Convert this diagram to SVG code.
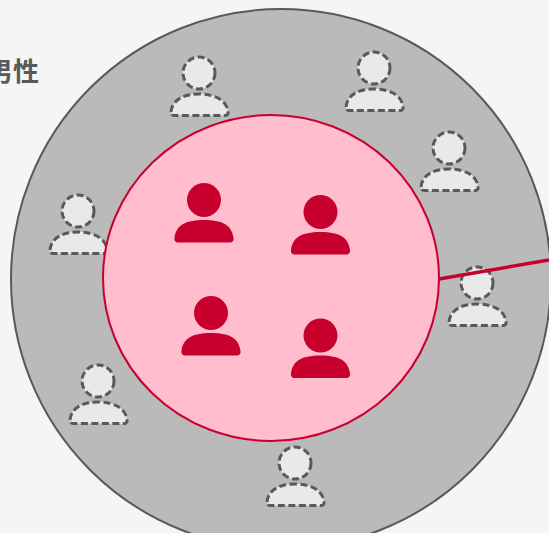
<svg xmlns="http://www.w3.org/2000/svg" width="549" height="533" viewBox="0 0 549 533">
<style>
.lbl{font-family:"Noto Sans CJK SC","Liberation Sans",sans-serif;font-size:26px;font-weight:700;fill:#595959}
.head-g,.body-g{fill:#e9e9e9;stroke:#595959;stroke-width:3;stroke-dasharray:7 3.5}
.head-r,.body-r{fill:#c8002d}
</style>
<defs>
<path id="body" d="M-28.5 41.5Q-28 21 0 21Q28 21 28.5 41.5Q28.5 42 27 42H-27Q-28.5 42 -28.5 41.5Z" transform="translate(0 0)"/>
<g id="pg"><circle class="head-g" r="16"/><path class="body-g" d="M-28 39C-27 28 -17 21 0 21C17 21 28 28 29 39C29.500 41 28 42.500 26 42.500H-25C-27 42.500 -28.500 41 -28 39Z"/></g>
<g id="pr"><circle class="head-r" r="17"/><path class="body-r" d="M-29.500 38C-28 26 -20 20 0 20C20 20 28 26 29.500 38C30 41 28 42.500 26 42.500H-26C-28 42.500 -30 41 -29.500 38Z"/></g>
</defs>
<rect width="549" height="533" fill="#f5f5f5"/>
<text class="lbl" x="-13" y="81">男性</text>
<circle id="outer" cx="281" cy="279" r="270" fill="#bababa" stroke="#595959" stroke-width="2"/>
<g id="gray-people">
<use id="g1" href="#pg" x="199" y="73"/>
<use id="g2" href="#pg" x="374" y="68"/>
<use id="g3" href="#pg" x="449" y="148"/>
<use id="g4" href="#pg" x="78" y="211"/>
<use id="g5" href="#pg" x="477" y="283"/>
<use id="g6" href="#pg" x="98" y="381"/>
<use id="g7" href="#pg" x="295" y="463"/>
</g>
<ellipse id="inner" cx="271" cy="278" rx="168" ry="163" fill="#ffbdcd" stroke="#c8002d" stroke-width="2"/>
<g id="red-people">
<use id="r1" href="#pr" x="204" y="200"/>
<use id="r2" href="#pr" x="320.500" y="212"/>
<use id="r3" href="#pr" x="211" y="313"/>
<use id="r4" href="#pr" x="320.500" y="335.500"/>
</g>
<g id="connectors">
<line x1="439" y1="279" x2="549" y2="260" stroke="#c8002d" stroke-width="3.500"/>
</g>
</svg>
